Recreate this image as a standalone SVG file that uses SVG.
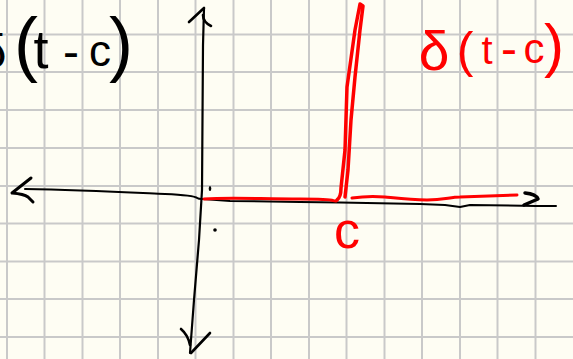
<svg xmlns="http://www.w3.org/2000/svg" width="573" height="359" viewBox="0 0 573 359">
<style>
.grid line{stroke:#c9c9c9;stroke-width:2}
.ink{fill:none;stroke:#000;stroke-linecap:round;stroke-linejoin:round}
.red{fill:none;stroke:#ff0000;stroke-linecap:round;stroke-linejoin:round}
.tb{font-family:"Liberation Sans","DejaVu Sans",sans-serif;fill:#000;text-anchor:middle}
.tr{font-family:"Liberation Sans","DejaVu Sans",sans-serif;fill:#ff0000;text-anchor:middle}
</style>
<rect width="573" height="359" fill="#fefdf3"/>
<g id="grid" class="grid">
<line x1="7" y1="0" x2="7" y2="359"/><line x1="44.5" y1="0" x2="44.5" y2="359"/><line x1="82.5" y1="0" x2="82.5" y2="359"/><line x1="120" y1="0" x2="120" y2="359"/><line x1="158" y1="0" x2="158" y2="359"/><line x1="195.5" y1="0" x2="195.5" y2="359"/><line x1="233.5" y1="0" x2="233.5" y2="359"/><line x1="271" y1="0" x2="271" y2="359"/><line x1="309" y1="0" x2="309" y2="359"/><line x1="346.5" y1="0" x2="346.5" y2="359"/><line x1="384.5" y1="0" x2="384.5" y2="359"/><line x1="422" y1="0" x2="422" y2="359"/><line x1="460" y1="0" x2="460" y2="359"/><line x1="497.5" y1="0" x2="497.5" y2="359"/><line x1="535.5" y1="0" x2="535.5" y2="359"/>
<line x1="0" y1="34.5" x2="573" y2="34.5"/><line x1="0" y1="72" x2="573" y2="72"/><line x1="0" y1="110" x2="573" y2="110"/><line x1="0" y1="148" x2="573" y2="148"/><line x1="0" y1="186" x2="573" y2="186"/><line x1="0" y1="223.5" x2="573" y2="223.5"/><line x1="0" y1="261.5" x2="573" y2="261.5"/><line x1="0" y1="299" x2="573" y2="299"/><line x1="0" y1="337" x2="573" y2="337"/>
</g>
<g id="axes">
<path class="ink" stroke-width="2.2" d="M204,8 L203,45 L202,190 L199,240 L194,300 L190,353"/>
<path class="ink" stroke-width="2.6" d="M189,22 L204,8 M203,15 Q203,22 211,26"/>
<path class="ink" stroke-width="2.6" d="M181,329 Q188,335 190,345 M210,333 L191,353"/>
<path class="ink" stroke-width="2" d="M25,189 C80,190 120,192 165,194 S190,199 203,199 L230,201 L300,202 L340,202.5 L420,204 L445,205 L460,207 L470,205 L536,206 L556,206"/>
<path class="ink" stroke-width="3" d="M31,178 L12,193 Q24,194 28,197 L33,202"/>
<path class="ink" stroke-width="3.5" d="M525,193 Q536,194 538,199 L524,205"/>
</g>
<g id="plot">
<path class="red" stroke-width="3" d="M204,199 C230,197 260,199 300,199 S330,201 336,201"/>
<path class="red" stroke-width="3.5" d="M337,200 Q341,197 341,188 L345,150 L347,87 L355,30 L360,4 L363,6 L360,30 L355,77 L351,120 L348,170 L345,197"/>
<path class="red" stroke-width="3" d="M352,198 C365,196 375,196 385,197 S410,200 427,200 S450,197 460,197 L517,195"/>
<ellipse cx="210" cy="188.5" rx="1.3" ry="2.5" fill="#000"/>
<circle cx="215" cy="230" r="1.8" fill="#000"/>
</g>
<g id="labels">
<text class="tb"><tspan x="-7" y="68" font-size="48">δ</tspan><tspan x="26" y="68" font-size="72">(</tspan><tspan x="41" y="68" font-size="54">t</tspan><tspan x="71" y="68" font-size="48">-</tspan><tspan x="100" y="66" font-size="44">c</tspan><tspan x="121" y="68" font-size="72">)</tspan></text>
<text class="tr"><tspan x="434" y="70" font-size="55">δ</tspan><tspan x="465" y="67" font-size="50">(</tspan><tspan x="487" y="64" font-size="40">t</tspan><tspan x="509" y="65" font-size="48">-</tspan><tspan x="534" y="63" font-size="42">c</tspan><tspan x="554" y="66" font-size="60">)</tspan></text>
<text class="tr" x="347" y="248" font-size="52">c</text>
</g>
</svg>
